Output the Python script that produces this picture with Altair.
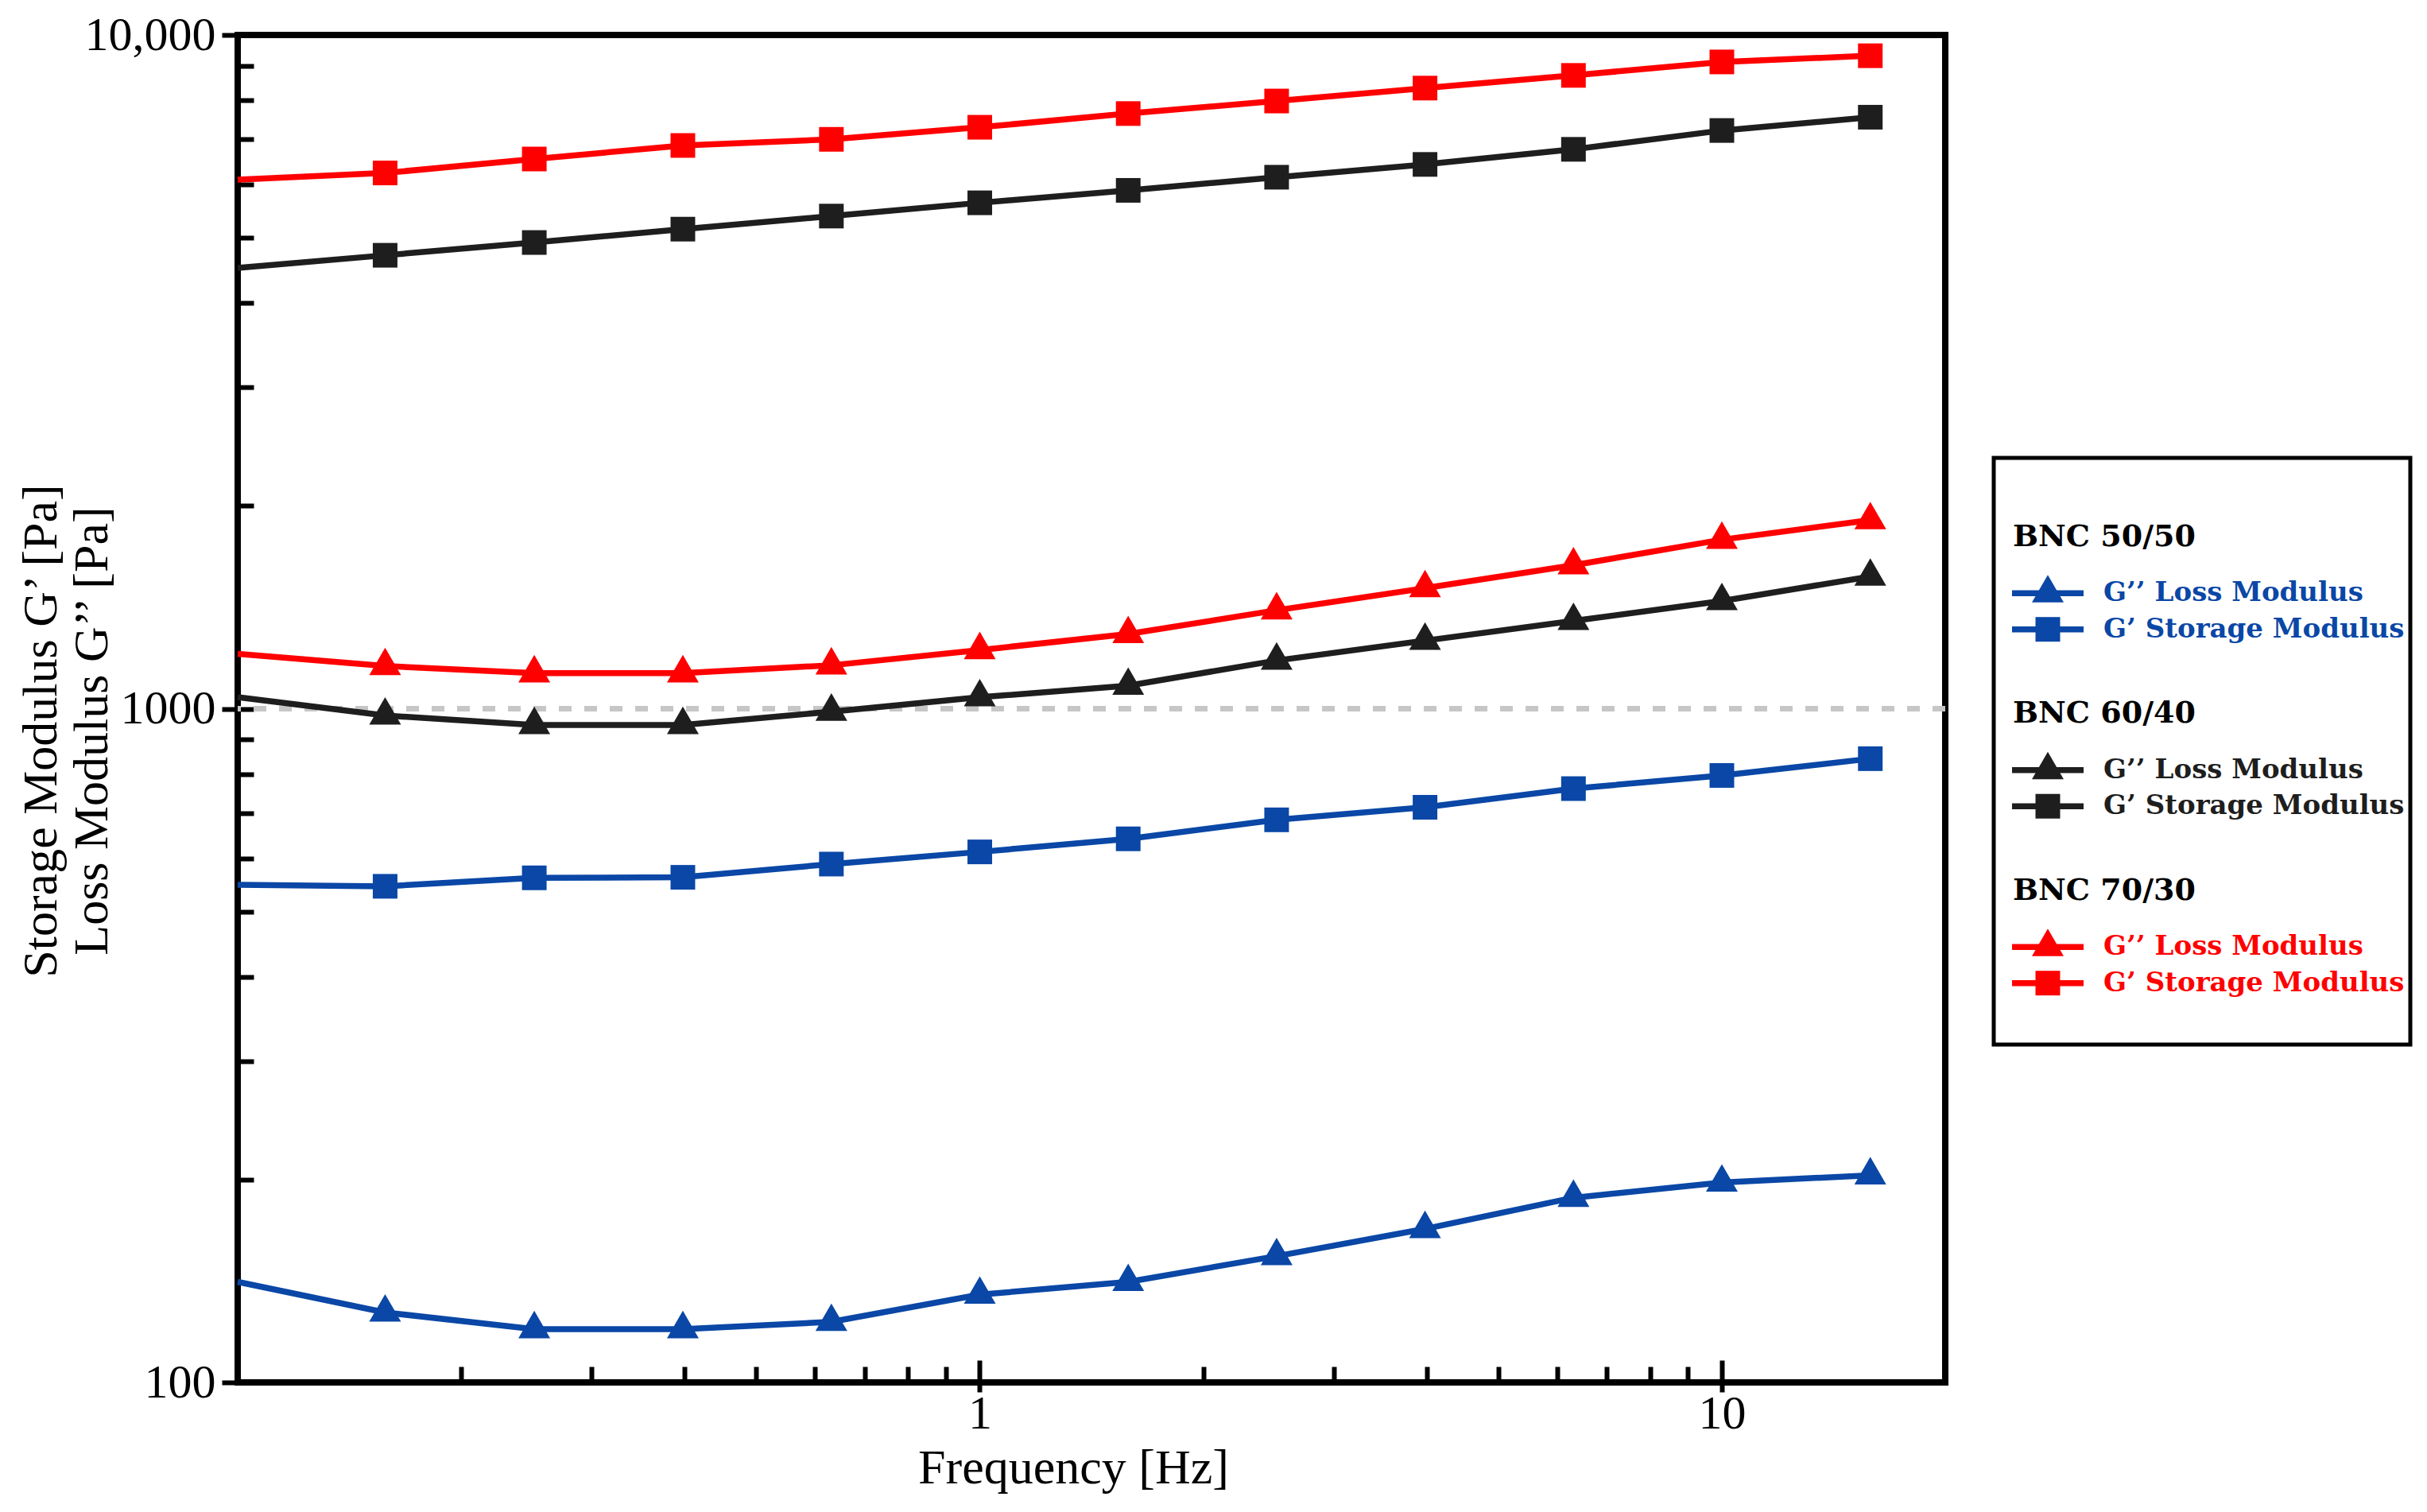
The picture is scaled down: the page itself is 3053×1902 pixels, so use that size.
import altair as alt
import pandas as pd

# ---------------- data ----------------
freq = [0.1, 0.158, 0.251, 0.398, 0.631, 1.0, 1.585, 2.512, 3.981, 6.31, 10.0, 15.85]

groups = ["BNC 50/50", "BNC 60/40", "BNC 70/30"]
group_colors = ["#0a47a6", "#1e1e1e", "#ff0000"]
kinds = ["loss", "storage"]
kind_labels = ["G\u2019\u2019 Loss Modulus", "G\u2019 Storage Modulus"]

g50_loss = [141, 127, 120, 120, 123, 135, 141, 154, 169, 188, 198, 203]
g50_storage = [548, 545, 561, 562, 588, 613, 641, 684, 714, 761, 796, 843]
g60_loss = [1040, 977, 946, 946, 990, 1040, 1082, 1179, 1262, 1350, 1445, 1571]
g60_storage = [4510, 4710, 4920, 5150, 5385, 5635, 5880, 6150, 6425, 6765, 7215, 7550]
g70_loss = [1206, 1157, 1129, 1129, 1160, 1222, 1291, 1400, 1510, 1633, 1782, 1905]
g70_storage = [6100, 6240, 6545, 6855, 7000, 7295, 7645, 7980, 8340, 8710, 9120, 9315]

x_ticks_major = [1, 10]
x_ticks_minor = [0.2, 0.3, 0.4, 0.5, 0.6, 0.7, 0.8, 0.9, 2, 3, 4, 5, 6, 7, 8, 9]
y_ticks_major = [100, 1000, 10000]
y_ticks_minor = [200, 300, 400, 500, 600, 700, 800, 900,
                 2000, 3000, 4000, 5000, 6000, 7000, 8000, 9000]
ref_level = [1000]

x_title = "Frequency [Hz]"
y_title = ["Storage Modulus G\u2019 [Pa]", "Loss Modulus G\u2019\u2019 [Pa]"]

# ---------------- tables ----------------
series = {
    ("BNC 50/50", "loss"): g50_loss,
    ("BNC 50/50", "storage"): g50_storage,
    ("BNC 60/40", "loss"): g60_loss,
    ("BNC 60/40", "storage"): g60_storage,
    ("BNC 70/30", "loss"): g70_loss,
    ("BNC 70/30", "storage"): g70_storage,
}
rows = []
for (g, k), vals in series.items():
    for f, v in zip(freq, vals):
        rows.append({"f": f, "value": v, "group": g, "kind": k})
df = pd.DataFrame(rows)
ref_df = pd.DataFrame({"v": ref_level})

FONT = "Liberation Serif"
LFONT = "DejaVu Serif"
TRI = "M0,-1.155L1,0.577L-1,0.577Z"
TRI_SIZE = 1600
SQ_SIZE = 960
LW = 7.5
W, H = 2148, 1695

xs = alt.Scale(type="log", domain=[0.1, 20], nice=False)
ys = alt.Scale(type="log", domain=[100, 10000], nice=False)
cscale = alt.Scale(domain=groups, range=group_colors)
sscale = alt.Scale(domain=kinds, range=[TRI, "square"])

# ---------------- axes ----------------
ax_x_lab = alt.Axis(orient="bottom", values=x_ticks_major, format="d", ticks=False, tickSize=0,
                    domain=False, grid=False, labelFont=FONT, labelFontSize=60, labelColor="black",
                    labelPadding=10, labelFlush=False, title=x_title, titleFont=FONT,
                    titleFontSize=62, titleFontWeight="normal", titleColor="black", titlePadding=8,
                    titleX=W / 2 - 23)
ax_x_minor = alt.Axis(orient="bottom", values=x_ticks_minor, labels=False, domain=False, grid=False,
                      tickSize=20, tickWidth=6, tickColor="black", offset=-20, title=None)
ax_x_major = alt.Axis(orient="bottom", values=x_ticks_major, labels=False, domain=False, grid=False,
                      tickSize=40, tickWidth=6, tickColor="black", offset=-28, title=None)

ax_y_lab = alt.Axis(orient="left", values=y_ticks_major,
                    labelExpr="datum.value >= 10000 ? format(datum.value, ',') : format(datum.value, 'd')",
                    ticks=False, tickSize=0, domain=False, grid=False, labelFont=FONT,
                    labelFontSize=60, labelColor="black", labelPadding=28, labelFlush=False,
                    title=y_title, titleFont=FONT, titleFontSize=62, titleFontWeight="normal",
                    titleColor="black", titleX=-216, titleY=875, titleLineHeight=64)
ax_y_minor = alt.Axis(orient="left", values=y_ticks_minor, labels=False, domain=False, grid=False,
                      tickSize=20, tickWidth=6, tickColor="black", offset=-20, title=None)
ax_y_major = alt.Axis(orient="left", values=y_ticks_major, labels=False, domain=False, grid=False,
                      tickSize=40, tickWidth=6, tickColor="black", offset=-20, title=None)

# ---------------- main plot ----------------
ref_rule = alt.Chart(ref_df).mark_rule(color="#c6c6c6", strokeWidth=7, strokeDash=[16, 16]).encode(
    y=alt.Y("v:Q", scale=ys, axis=None)
)

lines = alt.Chart(df).mark_line(strokeWidth=LW).encode(
    x=alt.X("f:Q", scale=xs, axis=ax_x_lab),
    y=alt.Y("value:Q", scale=ys, axis=ax_y_lab),
    color=alt.Color("group:N", scale=cscale, legend=None),
    detail="kind:N",
)

tris = alt.Chart(df).transform_filter(
    "datum.kind == 'loss' && datum.f > 0.11"
).mark_point(filled=True, opacity=1, size=TRI_SIZE).encode(
    x=alt.X("f:Q", scale=xs, axis=ax_x_minor),
    y=alt.Y("value:Q", scale=ys, axis=ax_y_minor),
    color=alt.Color("group:N", scale=cscale, legend=None),
    shape=alt.Shape("kind:N", scale=sscale, legend=None),
)

squares = alt.Chart(df).transform_filter(
    "datum.kind == 'storage' && datum.f > 0.11"
).mark_point(filled=True, opacity=1, size=SQ_SIZE).encode(
    x=alt.X("f:Q", scale=xs, axis=ax_x_major),
    y=alt.Y("value:Q", scale=ys, axis=ax_y_major),
    color=alt.Color("group:N", scale=cscale, legend=None),
    shape=alt.Shape("kind:N", scale=sscale, legend=None),
)

main = alt.layer(ref_rule, lines, tris, squares).resolve_axis(
    x="independent", y="independent"
).properties(width=W, height=H,
             view=alt.ViewBackground(stroke="black", strokeWidth=8))

# ---------------- legend panel ----------------
head_df = pd.DataFrame({"label": groups, "gi": list(range(len(groups)))})
ent_rows = []
for gi, g in enumerate(groups):
    for k, lab in zip(kinds, kind_labels):
        ent_rows.append({"group": g, "gi": gi, "kind": k, "label": lab})
ent_df = pd.DataFrame(ent_rows)

leg_y = alt.Scale(domain=[-2.247, 14.337], reverse=True, nice=False, zero=False)

heads = alt.Chart(head_df).transform_calculate(slot="datum.gi * 5").mark_text(
    align="left", baseline="middle", font=LFONT, fontWeight="bold", fontSize=38, color="black"
).encode(x=alt.value(24), y=alt.Y("slot:Q", scale=leg_y, axis=None), text="label:N")

ent_base = alt.Chart(ent_df).transform_calculate(
    slot="datum.gi * 5 + (datum.kind == 'loss' ? 1.58 : 2.6)"
)
ent_lines = ent_base.mark_rule(strokeWidth=LW).encode(
    x=alt.value(23), x2=alt.value(113),
    y=alt.Y("slot:Q", scale=leg_y, axis=None),
    color=alt.Color("group:N", scale=cscale, legend=None),
)
ent_tri = ent_base.transform_filter("datum.kind == 'loss'").mark_point(
    filled=True, opacity=1, size=TRI_SIZE).encode(
    x=alt.value(68), y=alt.Y("slot:Q", scale=leg_y, axis=None),
    color=alt.Color("group:N", scale=cscale, legend=None),
    shape=alt.Shape("kind:N", scale=sscale, legend=None),
)
ent_sq = ent_base.transform_filter("datum.kind == 'storage'").mark_point(
    filled=True, opacity=1, size=SQ_SIZE).encode(
    x=alt.value(68), y=alt.Y("slot:Q", scale=leg_y, axis=None),
    color=alt.Color("group:N", scale=cscale, legend=None),
    shape=alt.Shape("kind:N", scale=sscale, legend=None),
)
ent_text = ent_base.mark_text(align="left", baseline="middle", font=LFONT, fontWeight="bold",
                              fontSize=34).encode(
    x=alt.value(138), y=alt.Y("slot:Q", scale=leg_y, axis=None), text="label:N",
    color=alt.Color("group:N", scale=cscale, legend=None),
)

legend = alt.layer(heads, ent_lines, ent_tri, ent_sq, ent_text).properties(
    width=524, height=738, view=alt.ViewBackground(stroke="black", strokeWidth=5)
)

# invisible spacer that pushes the legend box down beside the plot
spacer = alt.Chart(pd.DataFrame({"s": [0]})).mark_point(opacity=0).properties(
    width=1, height=488, view=alt.ViewBackground(stroke="transparent")
)

right_col = alt.vconcat(spacer, legend, spacing=40)

chart = alt.hconcat(main, right_col, spacing=50).properties(
    padding={"left": 8, "top": 2, "right": 2, "bottom": 2}, background="white"
).configure_view(stroke="black")

chart.save("out.html", embed_options={"renderer": "svg", "actions": False})
